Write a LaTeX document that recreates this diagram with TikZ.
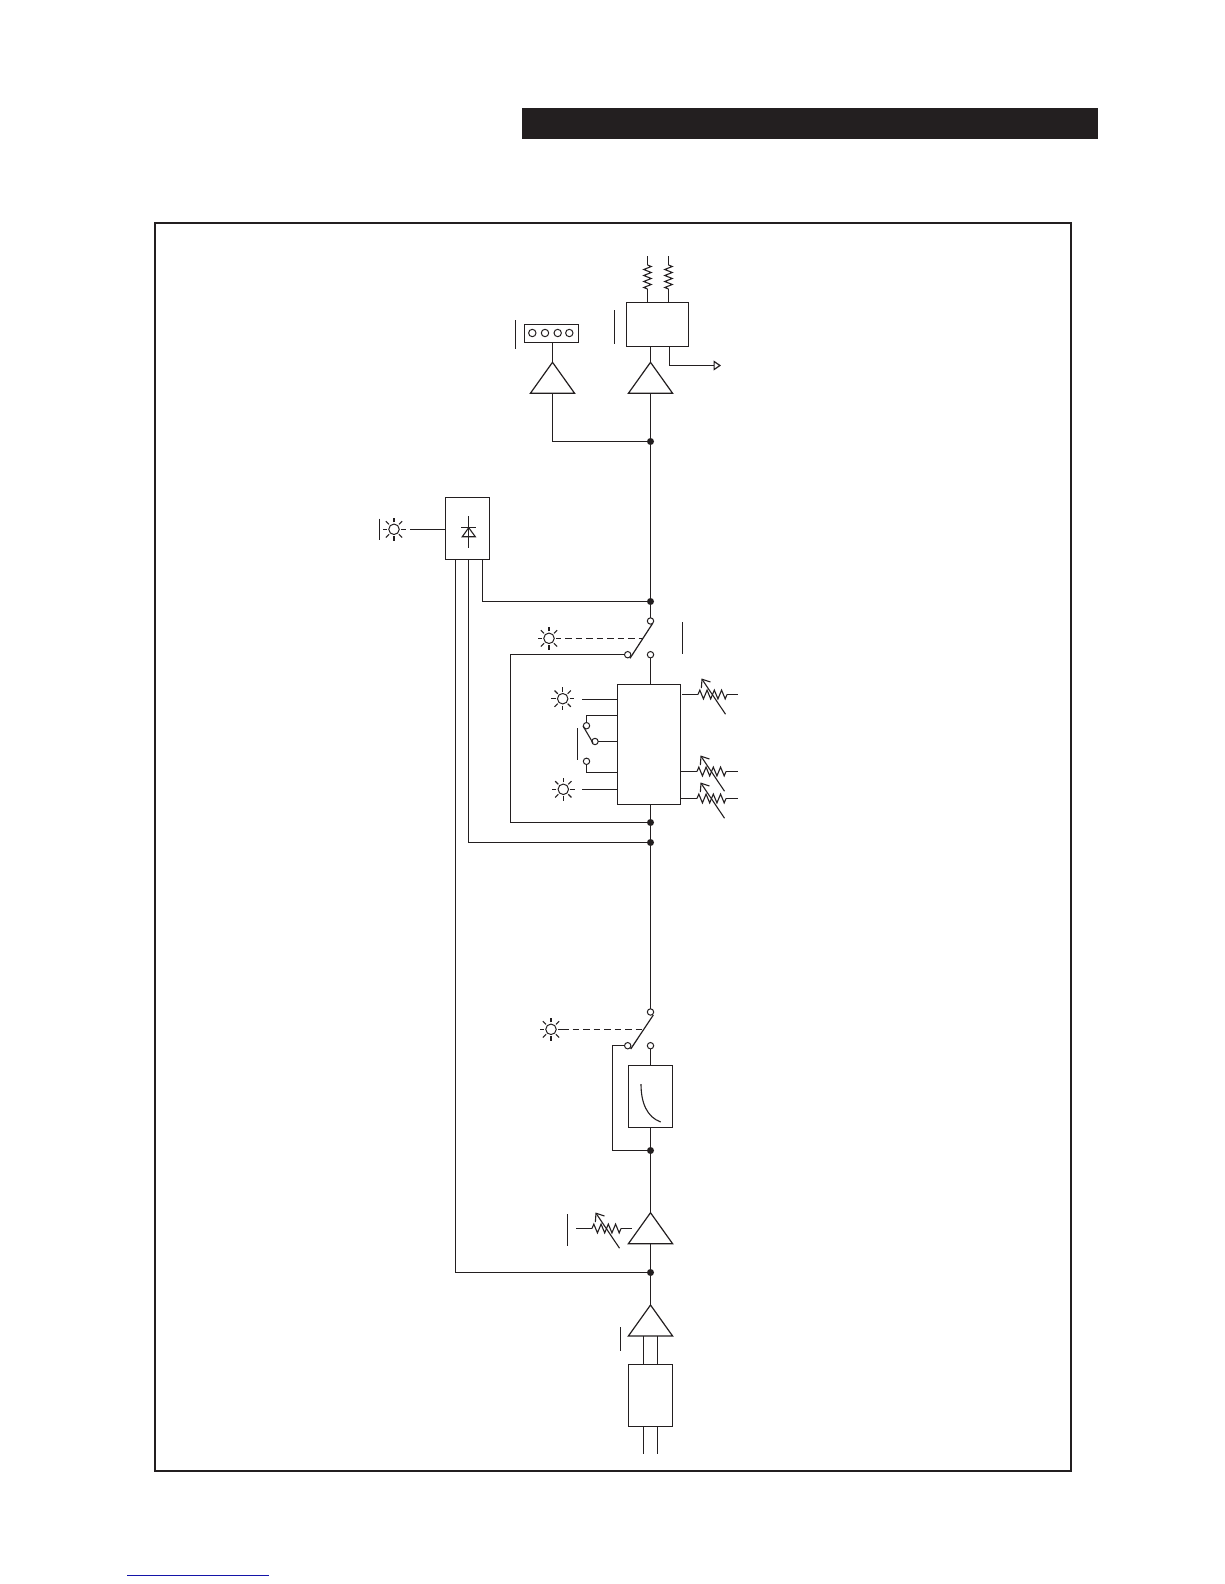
\documentclass[tikz,border=0pt]{standalone}
\usetikzlibrary{positioning, calc, arrows.meta, shapes.geometric, decorations.pathmorphing}
\definecolor{ink}{HTML}{231F20}
\definecolor{linkblue}{HTML}{1414A8}

\newcommand{\sunlamp}[2]{
    \node[ring, minimum size=10.5pt] (#1) at (#2) {};
    \foreach \a in {0,45,...,315}
        \draw[thinline] (#1) ++(\a:7) -- ++(\a:4.5);
}
\newcommand{\varres}[2]{
    \coordinate (#1L) at (#2);
    \coordinate (#1R) at ($(#1L)+(29,0)$);
    \draw[zig] (#1L) -- (#1R);
    \draw[thinline, -{Straight Barb[length=7pt,width=11pt]}] ($(#1L)+(27.5,19.7)$) -- ($(#1L)+(3.5,-16)$);
}

\begin{document}
\begin{tikzpicture}[
    x=1pt,
    y=-1pt,
    line width=1.2pt,
    color=ink,
    thinline/.style={line width=1.1pt},
    block/.style={
        draw,
        rectangle,
        inner sep=0pt,
        outer sep=0pt
    },
    amp/.style={
        draw,
        isosceles triangle,
        isosceles triangle apex angle=71,
        shape border rotate=90,
        minimum height=31pt,
        inner sep=0pt,
        outer sep=0pt,
        anchor=apex
    },
    ring/.style={
        draw,
        circle,
        fill=white,
        inner sep=0pt,
        outer sep=0pt,
        line width=1pt,
        minimum size=6.4pt
    },
    dot/.style={
        circle,
        fill=ink,
        inner sep=0pt,
        outer sep=0pt,
        minimum size=7pt
    },
    zig/.style={
        thinline,
        decorate,
        decoration={zigzag, segment length=7.25pt, amplitude=4.4pt}
    },
    coil/.style={
        thinline,
        decorate,
        decoration={zigzag, segment length=6pt, amplitude=3.7pt}
    }
]
\useasboundingbox (0,0) rectangle (1224,1584);

\node[block, draw=none, fill=ink, minimum width=576pt, minimum height=31pt] (Banner) at (810,123.3) {};
\node[block, line width=2pt, minimum width=916pt, minimum height=1247.7pt] (Frame) at (612.5,846.9) {};
\coordinate (LinkL) at (127,1575.5);
\coordinate (LinkR) at (269,1575.5);
\draw[linkblue, line width=1.2pt] (LinkL) -- (LinkR);

\node[block, minimum width=62.4pt, minimum height=44pt] (OutBox) at (657.5,324.5) {};
\node[block, minimum width=54.4pt, minimum height=18pt] (MeterBox) at (551.5,333.5) {};
\node[amp] (MeterAmp) at (552.5,362.3) {};
\node[amp] (OutAmp) at (650.5,362.3) {};
\node[block, minimum width=44.4pt, minimum height=62.4pt] (DetBox) at (467.5,528.5) {};
\node[block, minimum width=63pt, minimum height=120pt] (CompBox) at (648.8,744.3) {};
\node[block, minimum width=44.4pt, minimum height=62pt] (FilterBox) at (650.5,1096.3) {};
\node[amp] (TrimAmp) at (650.5,1212.7) {};
\node[amp] (PreAmp) at (650.5,1305) {};
\node[block, minimum width=44.4pt, minimum height=62pt] (XfmrBox) at (650.5,1395.3) {};

\foreach \n/\x in {1/532.3, 2/545, 3/557.7, 4/569.3}
    \node[ring, minimum size=7.4pt] (Led\n) at (\x,333) {};

\node[dot] (J1) at (650.5,441.5) {};
\node[dot] (J2) at (650.5,601.5) {};
\node[dot] (J3) at (650.5,822.5) {};
\node[dot] (J4) at (650.5,842.5) {};
\node[dot] (J5) at (650.5,1150.5) {};
\node[dot] (J6) at (650.5,1272.5) {};

\node[ring] (S1top) at (650.5,621) {};
\node[ring] (S1on) at (650.5,654.7) {};
\node[ring] (S1off) at (627.7,654.7) {};
\node[ring] (S2top) at (650.5,1012) {};
\node[ring] (S2on) at (650.5,1045.7) {};
\node[ring] (S2off) at (627.7,1045.7) {};
\node[ring] (S3a) at (586.5,725.7) {};
\node[ring] (S3b) at (595,741.5) {};
\node[ring] (S3c) at (586.5,761.3) {};

\sunlamp{SunDet}{394,529.3}
\sunlamp{SunComp}{549,638.3}
\sunlamp{SunA}{562.7,698.7}
\sunlamp{SunB}{563.3,789.3}
\sunlamp{SunHpf}{551,1029.3}

\foreach \n/\x in {A/647.5, B/668.5} {
    \coordinate (R\n top) at (\x,256);
    \coordinate (R\n a) at (\x,265);
    \coordinate (R\n b) at (\x,289);
    \draw (R\n top) -- (R\n a);
    \draw[coil] (R\n a) -- (R\n b);
    \draw (R\n b) -- (R\n b |- OutBox.north);
}

\varres{VA}{698,694.5}
\varres{VB}{697,771.5}
\varres{VC}{697,798.5}
\varres{VD}{592,1228.5}

\coordinate (VAin) at (682,694.5);
\coordinate (VAout) at (738,694.5);
\coordinate (VBout) at (738,771.5);
\coordinate (VCout) at (738,798.5);
\coordinate (VDin) at (576,1228.5);
\coordinate (VDout) at (632,1228.5);
\draw (VAin) -- (VAL);
\draw (VAR) -- (VAout);
\draw (VBL -| CompBox.east) -- (VBL);
\draw (VBR) -- (VBout);
\draw (VCL -| CompBox.east) -- (VCL);
\draw (VCR) -- (VCout);
\draw (VDin) -- (VDL);
\draw (VDR) -- (VDout);

\draw (MeterAmp.apex) -- (MeterAmp.apex |- MeterBox.south);
\draw (OutAmp.apex) -- (OutAmp.apex |- OutBox.south);
\coordinate (OutSrc) at (669.5,346.5);
\coordinate (OutTip) at (721,365.5);
\draw[-{Triangle[open, length=7.5pt, width=10pt]}] (OutSrc) |- (OutTip);
\draw (MeterAmp.lower side) |- (J1);
\draw (OutAmp.lower side) -- (J1);
\draw (J1) -- (J2);
\draw (J2) -- (S1top);
\draw (S1on) -- (S1on |- CompBox.north);
\draw (J3 |- CompBox.south) -- (J3);
\draw (J3) -- (J4);
\draw (J4) -- (S2top);
\draw (S1off) -| (510.5,738) |- (J3);
\draw (S2on) -- (S2on |- FilterBox.north);
\draw (S2off) -| (612.5,1100) |- (J5);
\draw (J5 |- FilterBox.south) -- (J5);
\draw (J5) -- (TrimAmp.apex);
\draw (TrimAmp.lower side) -- (J6);
\draw (J6) -- (PreAmp.apex);

\coordinate (InA) at (643.5,1453.7);
\coordinate (InB) at (657.5,1453.7);
\draw (InA |- PreAmp.lower side) -- (InA |- XfmrBox.north);
\draw (InB |- PreAmp.lower side) -- (InB |- XfmrBox.north);
\draw (InA |- XfmrBox.south) -- (InA);
\draw (InB |- XfmrBox.south) -- (InB);

\coordinate (DetIn) at (410,529.5);
\draw (DetIn) -- (DetIn -| DetBox.west);
\draw (482.5,0 |- DetBox.south) |- (J2);
\draw (468.5,0 |- DetBox.south) |- (J4);
\draw (455.5,0 |- DetBox.south) |- (J6);

\coordinate (DioTop) at (468.7,516);
\coordinate (DioBot) at (468.7,547.7);
\draw[thinline] (DioTop) -- (DioBot);
\draw[thinline] (461.3,527.7) -- (476,527.7);
\draw[thinline] (468.7,527.7) -- (462.3,536.7) -- (475.3,536.7) -- cycle;

\draw[thinline] (641,1084) .. controls (641,1103) and (647,1117) .. (660.7,1122);

\draw[dashed, dash pattern=on 6.5pt off 4pt] ($(SunComp)+(16,0)$) -- (643.3,638.3);
\draw[dashed, dash pattern=on 6.5pt off 4pt] ($(SunHpf)+(11,0)$) -- (643.3,1029.3);
\draw (652.7,623.3) -- (630,658.3);
\draw (653.3,1015) -- (630.7,1049);

\coordinate (LampAin) at (582,699.5);
\coordinate (LampBin) at (582,789.5);
\coordinate (S3bend) at (586.5,715.5);
\coordinate (S3foot) at (586.5,772.5);
\draw (LampAin) -- (LampAin -| CompBox.west);
\draw (LampBin) -- (LampBin -| CompBox.west);
\draw (S3a.north) -- (S3bend) -- (S3bend -| CompBox.west);
\draw (S3b) -- (S3b -| CompBox.west);
\draw (S3c.south) -- (S3foot) -- (S3foot -| CompBox.west);
\draw[thinline] (583,726) -- (593,743);

\foreach \x/\ya/\yb in {515.5/320/348.7, 614.5/310.3/344, 379.5/518.7/540.3, 682.5/622/654, 577.5/728.3/759.7, 567.5/1214/1246, 620.5/1327/1350.7}
    \draw[thinline] (\x,\ya) -- (\x,\yb);

\end{tikzpicture}
\end{document}
